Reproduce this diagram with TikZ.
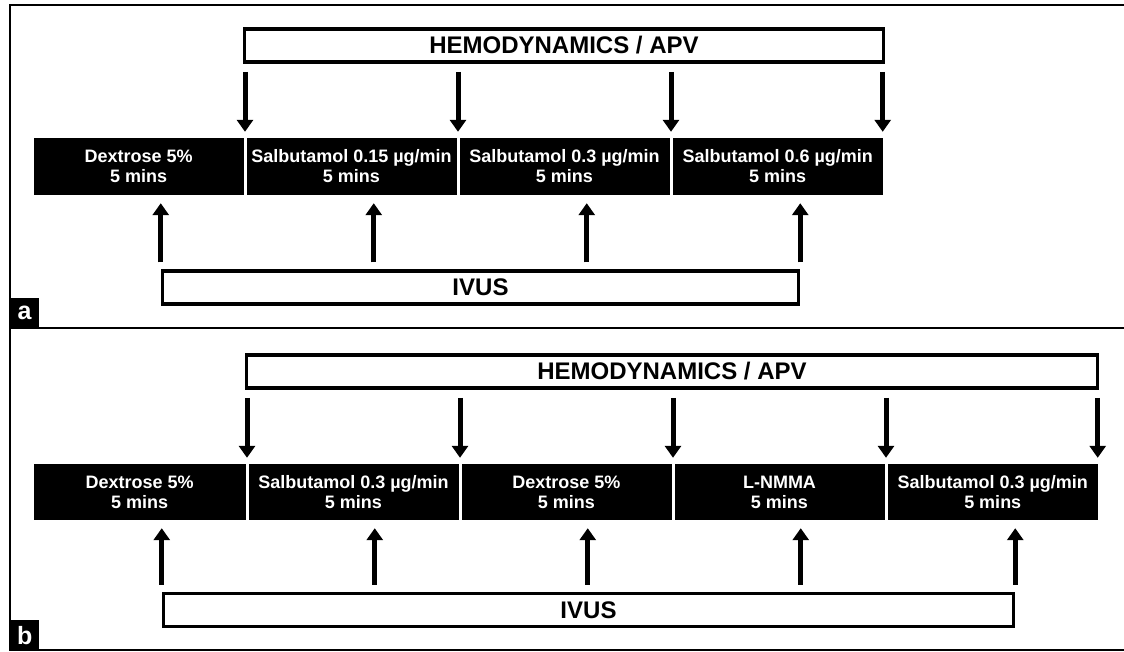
\documentclass[tikz,border=0pt]{standalone}
\usepackage{fontspec}
\setmainfont{Liberation Sans}
\usetikzlibrary{arrows.meta,calc}
\tikzset{
  hbox/.style={draw=black, line width=3.5pt, fill=white, inner sep=0pt, minimum height=33pt,
    font=\fontsize{24}{26}\selectfont\bfseries},
  blk/.style={fill=black, draw=none, text=white, inner sep=0pt, align=center, minimum height=57pt,
    font=\fontsize{18}{20}\selectfont\bfseries},
  arr/.style={line width=5pt, -{Triangle[width=16pt,length=12pt]}},
  frame/.style={line width=2.2pt},
  lbl/.style={fill=black, text=white, inner sep=0pt, minimum width=29pt, minimum height=30pt,
    font=\fontsize{25}{25}\selectfont\bfseries}
}
\begin{document}
\begin{tikzpicture}[x=1pt,y=-1pt]
\useasboundingbox (0,0) rectangle (1124,651);
\fill[white] (0,0) rectangle (1124,651);
% frame
\draw[frame] (1124,5) -- (10,5) -- (10,650) -- (1124,650);
\draw[frame] (10,328) -- (1124,328);

% ---------- panel a ----------
\node[hbox, minimum width=639pt] (hemA) at (564,45.5) {HEMODYNAMICS / APV};
\node[hbox, minimum width=636pt] (ivA) at (480.5,287.5) {IVUS};
\node[blk, minimum width=209.5pt] (a1) at (138.75,166.5) {Dextrose 5\%\\5 mins};
\node[blk, minimum width=210pt] (a2) at (351.5,166.5) {Salbutamol 0.15 µg/min\\5 mins};
\node[blk, minimum width=210pt] (a3) at (564.5,166.5) {Salbutamol 0.3 µg/min\\5 mins};
\node[blk, minimum width=210.5pt] (a4) at (777.75,166.5) {Salbutamol 0.6 µg/min\\5 mins};

% gap points and arrow ends
\coordinate (ga1) at ($(a1.north east)!0.5!(a2.north west)$);
\coordinate (ga2) at ($(a2.north east)!0.5!(a3.north west)$);
\coordinate (ga3) at ($(a3.north east)!0.5!(a4.north west)$);
\coordinate (ga4) at ([xshift=-0.5pt]a4.north east);
\foreach \k in {1,...,4}{
  \coordinate (sa\k) at (hemA.south -| ga\k);
  \draw[arr] ([yshift=-8pt]sa\k) -- ([yshift=6pt]ga\k);
}

\coordinate (ia1) at (ivA.north west);
\coordinate (ia2) at ($(ivA.north west)+(213,0)$);
\coordinate (ia3) at ($(ivA.north west)+(426,0)$);
\coordinate (ia4) at (ivA.north east);
\coordinate (ua1) at (ia1 |- a1.south);
\coordinate (ua2) at (ia2 |- a2.south);
\coordinate (ua3) at (ia3 |- a3.south);
\coordinate (ua4) at (ia4 |- a4.south);
\foreach \k in {1,2,3,4}{
  \draw[arr] ([yshift=7pt]ia\k) -- ([yshift=-8pt]ua\k);
}

\node[lbl, anchor=north west] (la) at (10,298) {a};

% ---------- panel b ----------
\node[hbox, minimum width=851pt] (hemB) at (672,371.5) {HEMODYNAMICS / APV};
\node[hbox, minimum width=850pt] (ivB) at (588.5,610) {IVUS};
\node[blk, minimum width=211.5pt, minimum height=56pt] (b1) at (139.75,492) {Dextrose 5\%\\5 mins};
\node[blk, minimum width=210pt, minimum height=56pt] (b2) at (353.5,492) {Salbutamol 0.3 µg/min\\5 mins};
\node[blk, minimum width=210pt, minimum height=56pt] (b3) at (566.5,492) {Dextrose 5\%\\5 mins};
\node[blk, minimum width=210pt, minimum height=56pt] (b4) at (779.5,492) {L-NMMA\\5 mins};
\node[blk, minimum width=210.5pt, minimum height=56pt] (b5) at (992.75,492) {Salbutamol 0.3 µg/min\\5 mins};

\coordinate (gb1) at ($(b1.north east)!0.5!(b2.north west)$);
\coordinate (gb2) at ($(b2.north east)!0.5!(b3.north west)$);
\coordinate (gb3) at ($(b3.north east)!0.5!(b4.north west)$);
\coordinate (gb4) at ($(b4.north east)!0.5!(b5.north west)$);
\coordinate (gb5) at ([xshift=-0.5pt]b5.north east);
\foreach \k in {1,...,5}{
  \coordinate (sb\k) at (hemB.south -| gb\k);
  \draw[arr] ([yshift=-8pt]sb\k) -- ([yshift=6pt]gb\k);
}

\coordinate (ib1) at (ivB.north west);
\coordinate (ib2) at ($(ivB.north west)+(213,0)$);
\coordinate (ib3) at ($(ivB.north west)+(426,0)$);
\coordinate (ib4) at ($(ivB.north west)+(639,0)$);
\coordinate (ib5) at (ivB.north east);
\coordinate (ub1) at (ib1 |- b1.south);
\coordinate (ub2) at (ib2 |- b2.south);
\coordinate (ub3) at (ib3 |- b3.south);
\coordinate (ub4) at (ib4 |- b4.south);
\coordinate (ub5) at (ib5 |- b5.south);
\foreach \k in {1,...,5}{
  \draw[arr] ([yshift=7pt]ib\k) -- ([yshift=-8pt]ub\k);
}

\node[lbl, anchor=north west] (lb) at (10,620) {b};
\end{tikzpicture}
\end{document}
